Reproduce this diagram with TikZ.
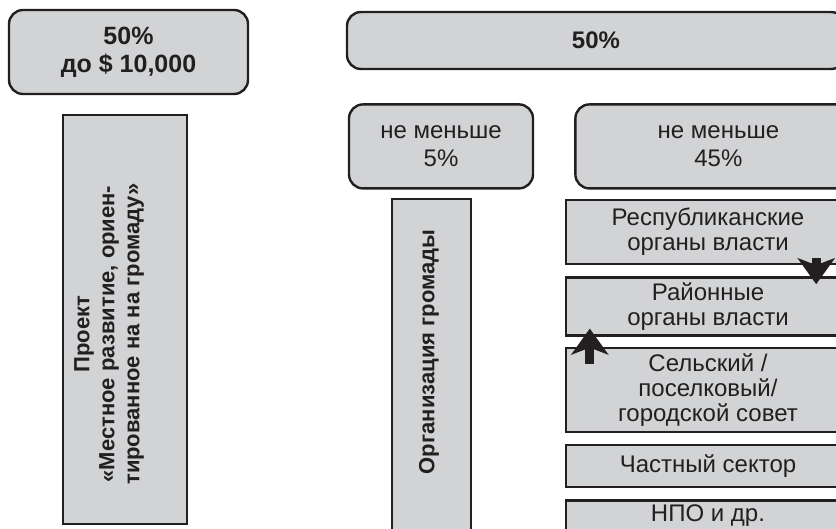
\documentclass[tikz,border=0pt]{standalone}
\usepackage{fontspec}
\setmainfont{Liberation Sans}
\usetikzlibrary{arrows.meta, positioning}

\definecolor{boxgray}{HTML}{D1D3D4}
\definecolor{inkgray}{HTML}{231F20}

\tikzset{
  roundbox/.style={draw=inkgray, line width=2.4pt, fill=boxgray, rounded corners=14pt,
    inner sep=0pt, text=inkgray, align=center, font=\fontsize{24}{28}\selectfont},
  flatbox/.style={draw=inkgray, line width=2.4pt, fill=boxgray,
    inner sep=0pt, text=inkgray, align=center, font=\fontsize{24}{25}\selectfont},
  boldtext/.style={text=inkgray, font=\fontsize{22}{25}\selectfont\bfseries},
  bigarrow/.style={line width=9pt, draw=inkgray, -{Stealth[width=37pt,length=26pt,inset=7pt]}},
}

\begin{document}
\begin{tikzpicture}[x=1pt, y=-1pt, node distance=11pt]
    \useasboundingbox (0,0) rectangle (836,528);

    % left column
    \node[roundbox, boldtext, font=\fontsize{25}{28}\selectfont\bfseries,
          minimum width=239pt, minimum height=84pt] (fund) at (128.5,52) {50\%\\до \$ 10,000};
    \node[flatbox, minimum width=124pt, minimum height=409pt] (project) at (125,319.5) {};
    \node[boldtext, align=center, rotate=90]
          (projtext) at (109,334) {Проект\\«Местное развитие, ориен-\\тированное на на громаду»};

    % right part
    \node[roundbox, boldtext, font=\fontsize{24}{25}\selectfont\bfseries,
          minimum width=498pt, minimum height=57pt] (share) at (596,40.5) {50\%};
    \node[roundbox, minimum width=184pt, minimum height=84pt,
          below=33pt of share.south west, anchor=north west, xshift=2pt] (min5) {не меньше\\5\%};
    \node[roundbox, minimum width=286pt, minimum height=84pt, right=40pt of min5] (min45) {не меньше\\45\%};

    \node[flatbox, minimum width=79pt, minimum height=361pt] (org) at (431.5,379.5) {};
    \node[boldtext, rotate=90] (orgtext) at (429,352) {Организация громады};

    \node[flatbox, minimum width=284pt, minimum height=64pt] (resp) at (708,232) {Республиканские\\органы власти};
    \node[flatbox, minimum width=284pt, minimum height=58pt, below=of resp] (rayon) {Районные\\органы власти};
    \node[flatbox, minimum width=284pt, minimum height=84pt, below=10pt of rayon] (selsk) {Сельский /\\поселковый/\\городской совет};
    \node[flatbox, minimum width=284pt, minimum height=42pt, below=of selsk] (private) {Частный сектор};
    \node[flatbox, minimum width=284pt, text height=21pt, text depth=39pt, below=of private] (ngo) {НПО и др.};

    \draw[bigarrow] ([xshift=-35pt, yshift=7pt]resp.south east) -- ([xshift=-35pt, yshift=-8pt]rayon.north east);
    \draw[bigarrow] ([xshift=25pt, yshift=-17pt]selsk.north west) -- ([xshift=25pt, yshift=8pt]rayon.south west);
\end{tikzpicture}
\end{document}
